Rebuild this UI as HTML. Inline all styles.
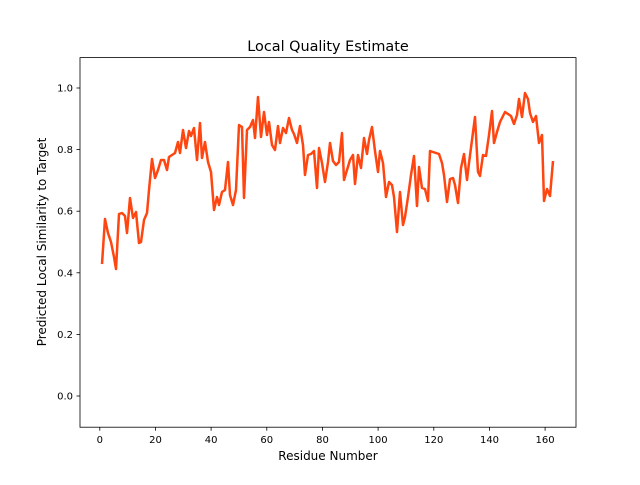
<!DOCTYPE html>
<html><head><style>body{margin:0;background:#fff}</style></head><body>
<svg width="640" height="480" xmlns="http://www.w3.org/2000/svg" font-family="'DejaVu Sans','Liberation Sans',sans-serif">
<rect width="640" height="480" fill="#fff"/>
<text x="328" y="51" font-size="14.4" text-anchor="middle">Local Quality Estimate</text>
<polyline fill="none" stroke="#ff4510" stroke-width="2.5" stroke-linejoin="round" points="102,264 105,219 108,233 111,242 114,257 116,269 119,214 122,213 125,216 127,233 130,198 133,218 136,212 139,243 141,242 144,220 147,213 149,190 152,159 155,178 158,170 161,160 164,160 167,170 169,157 172,155 175,153 178,142 180,153 183,130 186,148 189,131 191,136 194,128 197,160 200,123 202,158 205,142 208,162 211,172 214,210 217,197 219,205 222,192 225,190 228,162 230,195 233,205 236,190 239,125 242,127 244,198 247,130 250,127 253,120 255,138 258,97 261,137 264,112 267,135 269,122 272,145 275,150 278,126 280,143 283,128 286,133 289,118 292,130 294,134 297,143 300,126 303,145 305,175 308,155 311,154 314,151 317,188 319,148 322,163 325,182 328,162 330,143 333,161 336,165 339,162 342,133 344,180 347,170 350,160 353,155 355,184 358,155 361,168 364,138 367,154 369,140 372,127 375,151 378,172 380,151 383,163 386,197 389,182 392,185 394,197 397,232 400,192 403,225 405,217 408,197 411,175 414,156 417,206 419,167 422,188 425,189 428,201 430,151 433,152 436,153 439,154 442,163 444,175 447,202 450,179 453,178 455,185 458,203 461,168 464,154 467,180 469,163 472,140 475,117 478,172 480,176 483,155 486,156 489,135 492,111 494,143 497,132 500,122 503,116 505,112 508,114 511,116 514,124 517,115 519,99 522,117 525,93 528,99 530,113 533,122 536,116 539,143 542,135 544,201 547,189 550,196 553,161"/>
<rect x="80" y="57.6" width="496" height="369.6" fill="none" stroke="#000" stroke-width="0.8"/>
<g stroke="#000" stroke-width="0.8">
<line x1="99.8" y1="427.2" x2="99.8" y2="430.7"/><line x1="155.5" y1="427.2" x2="155.5" y2="430.7"/><line x1="211.1" y1="427.2" x2="211.1" y2="430.7"/><line x1="266.8" y1="427.2" x2="266.8" y2="430.7"/><line x1="322.5" y1="427.2" x2="322.5" y2="430.7"/><line x1="378.1" y1="427.2" x2="378.1" y2="430.7"/><line x1="433.8" y1="427.2" x2="433.8" y2="430.7"/><line x1="489.5" y1="427.2" x2="489.5" y2="430.7"/><line x1="545.1" y1="427.2" x2="545.1" y2="430.7"/>
<line x1="76.5" y1="396" x2="80" y2="396"/><line x1="76.5" y1="334.4" x2="80" y2="334.4"/><line x1="76.5" y1="272.8" x2="80" y2="272.8"/><line x1="76.5" y1="211.2" x2="80" y2="211.2"/><line x1="76.5" y1="149.6" x2="80" y2="149.6"/><line x1="76.5" y1="88" x2="80" y2="88"/>
</g>
<g font-size="10" text-anchor="middle">
<text x="99.8" y="443">0</text><text x="155.5" y="443">20</text><text x="211.1" y="443">40</text><text x="266.8" y="443">60</text><text x="322.5" y="443">80</text><text x="378.1" y="443">100</text><text x="433.8" y="443">120</text><text x="489.5" y="443">140</text><text x="545.1" y="443">160</text>
</g>
<g font-size="10" text-anchor="end">
<text x="73" y="399.5">0.0</text><text x="73" y="337.9">0.2</text><text x="73" y="276.3">0.4</text><text x="73" y="214.7">0.6</text><text x="73" y="153.1">0.8</text><text x="73" y="91.5">1.0</text>
</g>
<text x="328" y="460" font-size="12" text-anchor="middle">Residue Number</text>
<text transform="translate(46,242) rotate(-90)" font-size="12" text-anchor="middle">Predicted Local Similarity to Target</text>
</svg>
</body></html>
